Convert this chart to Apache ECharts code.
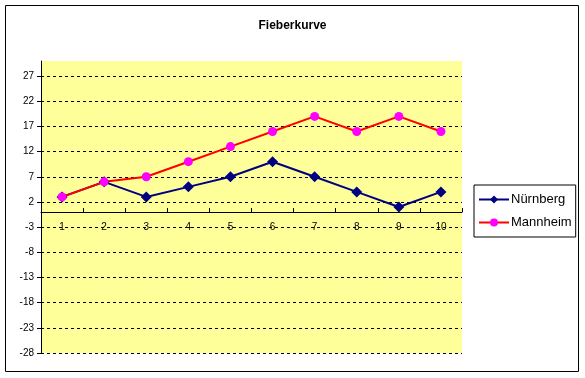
<!DOCTYPE html>
<html>
<head>
<meta charset="utf-8">
<script src="https://cdn.jsdelivr.net/npm/echarts@6/dist/echarts.min.js"></script>
<style>
html,body{margin:0;padding:0;background:#fff;}
#c{width:585px;height:378px;}
</style>
</head>
<body>
<div id="c"></div>
<script>
const categories = ['1','2','3','4','5','6','7','8','9','10'];
const nuernberg = [3, 6, 3, 5, 7, 10, 7, 4, 1, 4];
const mannheim = [3, 6, 7, 10, 13, 16, 19, 16, 19, 16];
const yTicks = [-28, -23, -18, -13, -8, -3, 2, 7, 12, 17, 22, 27];
const yMin = -28, yMax = 30;

const gridTop = 61, gridHeight = 292;
// offset of x axis so that it sits at value 0
const zeroOffset = -gridHeight * (0 - yMin) / (yMax - yMin);

const chart = echarts.init(document.getElementById('c'));
chart.setOption({
  animation: false,
  backgroundColor: '#ffffff',
  title: {
    text: 'Fieberkurve',
    left: 'center',
    top: 15,
    textStyle: {fontFamily: 'Liberation Sans, Arial', fontSize: 12, fontWeight: 'bold', color: '#000'}
  },
  graphic: [{
    type: 'rect',
    shape: {x: 5.5, y: 5.5, width: 573, height: 366},
    style: {fill: 'none', stroke: '#000', lineWidth: 1},
    silent: true,
    z: -1
  }],
  legend: {
    orient: 'vertical',
    left: 474,
    top: 185,
    padding: [8, 4, 8, 4],
    itemGap: 10,
    itemWidth: 30,
    itemHeight: 10,
    borderColor: '#000',
    borderWidth: 1,
    textStyle: {fontFamily: 'Liberation Sans, Arial', fontSize: 13, color: '#000', padding: [0, 0, 0, -3]},
    data: ['Nürnberg', 'Mannheim']
  },
  grid: {
    left: 41, top: gridTop, width: 421, height: gridHeight,
    show: true, backgroundColor: '#FFFF99', borderWidth: 0
  },
  xAxis: {
    type: 'category',
    data: categories,
    boundaryGap: true,
    position: 'bottom',
    offset: zeroOffset,
    axisLine: {onZero: false, lineStyle: {color: '#000', width: 1}},
    axisTick: {show: true, inside: true, length: 4, lineStyle: {color: '#000'}},
    axisLabel: {color: '#000', fontFamily: 'Liberation Sans, Arial', fontSize: 10, margin: 10},
    splitLine: {show: false}
  },
  yAxis: {
    type: 'value',
    min: yMin,
    max: yMax,
    interval: 5,
    axisLine: {show: true, lineStyle: {color: '#000', width: 1}},
    axisTick: {show: true, length: 4, lineStyle: {color: '#000'}, customValues: yTicks},
    axisLabel: {color: '#000', fontFamily: 'Liberation Sans, Arial', fontSize: 10, margin: 7, customValues: yTicks},
    splitLine: {show: true, lineStyle: {color: '#000', type: [3, 3], width: 1}}
  },
  series: [
    {
      name: 'Nürnberg',
      type: 'line',
      data: nuernberg,
      symbol: 'diamond',
      symbolSize: 11,
      itemStyle: {color: '#000080'},
      lineStyle: {color: '#000080', width: 2}
    },
    {
      name: 'Mannheim',
      type: 'line',
      data: mannheim,
      symbol: 'circle',
      symbolSize: 9,
      itemStyle: {color: '#FF00FF'},
      lineStyle: {color: '#FF0000', width: 2}
    }
  ]
});
</script>
</body>
</html>
